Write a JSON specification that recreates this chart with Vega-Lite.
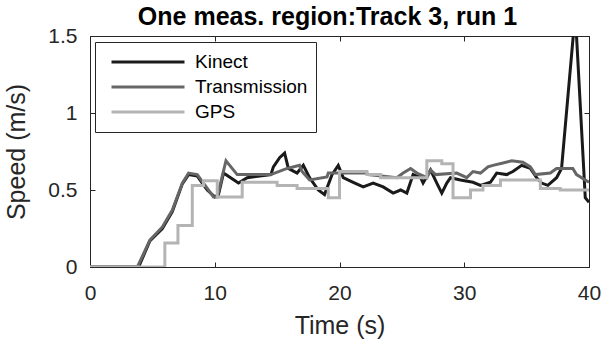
{
  "$schema": "https://vega.github.io/schema/vega-lite/v6.json",
  "width": 499,
  "height": 231,
  "autosize": {"type": "none"},
  "padding": {"left": 90, "top": 36, "right": 15, "bottom": 85},
  "background": "white",
  "title": {
    "text": "One meas. region:Track 3, run 1",
    "font": "Liberation Sans",
    "fontSize": 25,
    "fontWeight": "bold",
    "color": "#000000",
    "anchor": "middle",
    "dx": -12,
    "offset": -5
  },
  "datasets": {
    "lines": [
      {"t": 0, "v": 0, "series": "Kinect"},
      {"t": 3.9, "v": 0, "series": "Kinect"},
      {"t": 4.8, "v": 0.17, "series": "Kinect"},
      {"t": 5.8, "v": 0.25, "series": "Kinect"},
      {"t": 6.6, "v": 0.36, "series": "Kinect"},
      {"t": 7.4, "v": 0.54, "series": "Kinect"},
      {"t": 7.9, "v": 0.6, "series": "Kinect"},
      {"t": 8.6, "v": 0.59, "series": "Kinect"},
      {"t": 9.4, "v": 0.5, "series": "Kinect"},
      {"t": 10.0, "v": 0.455, "series": "Kinect"},
      {"t": 10.3, "v": 0.47, "series": "Kinect"},
      {"t": 10.7, "v": 0.61, "series": "Kinect"},
      {"t": 11.9, "v": 0.545, "series": "Kinect"},
      {"t": 12.3, "v": 0.565, "series": "Kinect"},
      {"t": 12.6, "v": 0.58, "series": "Kinect"},
      {"t": 14.5, "v": 0.6, "series": "Kinect"},
      {"t": 14.7, "v": 0.65, "series": "Kinect"},
      {"t": 15.2, "v": 0.71, "series": "Kinect"},
      {"t": 15.6, "v": 0.74, "series": "Kinect"},
      {"t": 15.9, "v": 0.64, "series": "Kinect"},
      {"t": 16.6, "v": 0.61, "series": "Kinect"},
      {"t": 17.1, "v": 0.66, "series": "Kinect"},
      {"t": 17.6, "v": 0.58, "series": "Kinect"},
      {"t": 18.3, "v": 0.5, "series": "Kinect"},
      {"t": 18.8, "v": 0.47, "series": "Kinect"},
      {"t": 19.4, "v": 0.6, "series": "Kinect"},
      {"t": 19.9, "v": 0.66, "series": "Kinect"},
      {"t": 20.3, "v": 0.58, "series": "Kinect"},
      {"t": 21.1, "v": 0.55, "series": "Kinect"},
      {"t": 21.9, "v": 0.52, "series": "Kinect"},
      {"t": 22.7, "v": 0.545, "series": "Kinect"},
      {"t": 23.5, "v": 0.52, "series": "Kinect"},
      {"t": 24.3, "v": 0.48, "series": "Kinect"},
      {"t": 24.9, "v": 0.5, "series": "Kinect"},
      {"t": 25.4, "v": 0.48, "series": "Kinect"},
      {"t": 25.9, "v": 0.6, "series": "Kinect"},
      {"t": 26.5, "v": 0.58, "series": "Kinect"},
      {"t": 26.7, "v": 0.545, "series": "Kinect"},
      {"t": 27.3, "v": 0.63, "series": "Kinect"},
      {"t": 27.8, "v": 0.545, "series": "Kinect"},
      {"t": 28.2, "v": 0.48, "series": "Kinect"},
      {"t": 28.6, "v": 0.545, "series": "Kinect"},
      {"t": 28.9, "v": 0.58, "series": "Kinect"},
      {"t": 29.7, "v": 0.565, "series": "Kinect"},
      {"t": 30.7, "v": 0.55, "series": "Kinect"},
      {"t": 31.3, "v": 0.53, "series": "Kinect"},
      {"t": 32.1, "v": 0.55, "series": "Kinect"},
      {"t": 32.6, "v": 0.61, "series": "Kinect"},
      {"t": 33.4, "v": 0.6, "series": "Kinect"},
      {"t": 33.9, "v": 0.62, "series": "Kinect"},
      {"t": 34.6, "v": 0.66, "series": "Kinect"},
      {"t": 35.3, "v": 0.64, "series": "Kinect"},
      {"t": 35.8, "v": 0.58, "series": "Kinect"},
      {"t": 36.2, "v": 0.545, "series": "Kinect"},
      {"t": 36.7, "v": 0.53, "series": "Kinect"},
      {"t": 37.4, "v": 0.58, "series": "Kinect"},
      {"t": 37.8, "v": 0.64, "series": "Kinect"},
      {"t": 38.9, "v": 1.65, "series": "Kinect"},
      {"t": 39.7, "v": 0.45, "series": "Kinect"},
      {"t": 40, "v": 0.42, "series": "Kinect"},

      {"t": 0, "v": 0, "series": "Transmission"},
      {"t": 3.8, "v": 0, "series": "Transmission"},
      {"t": 4.8, "v": 0.175, "series": "Transmission"},
      {"t": 5.8, "v": 0.26, "series": "Transmission"},
      {"t": 6.6, "v": 0.37, "series": "Transmission"},
      {"t": 7.4, "v": 0.545, "series": "Transmission"},
      {"t": 7.9, "v": 0.61, "series": "Transmission"},
      {"t": 8.6, "v": 0.6, "series": "Transmission"},
      {"t": 9.4, "v": 0.51, "series": "Transmission"},
      {"t": 9.9, "v": 0.455, "series": "Transmission"},
      {"t": 10.2, "v": 0.455, "series": "Transmission"},
      {"t": 10.9, "v": 0.69, "series": "Transmission"},
      {"t": 11.8, "v": 0.6, "series": "Transmission"},
      {"t": 14.5, "v": 0.6, "series": "Transmission"},
      {"t": 15.8, "v": 0.64, "series": "Transmission"},
      {"t": 16.8, "v": 0.66, "series": "Transmission"},
      {"t": 17.0, "v": 0.62, "series": "Transmission"},
      {"t": 17.6, "v": 0.565, "series": "Transmission"},
      {"t": 19.0, "v": 0.585, "series": "Transmission"},
      {"t": 19.1, "v": 0.61, "series": "Transmission"},
      {"t": 22.2, "v": 0.61, "series": "Transmission"},
      {"t": 22.3, "v": 0.6, "series": "Transmission"},
      {"t": 24.6, "v": 0.58, "series": "Transmission"},
      {"t": 25.1, "v": 0.61, "series": "Transmission"},
      {"t": 25.7, "v": 0.64, "series": "Transmission"},
      {"t": 26.2, "v": 0.61, "series": "Transmission"},
      {"t": 27.0, "v": 0.58, "series": "Transmission"},
      {"t": 27.3, "v": 0.63, "series": "Transmission"},
      {"t": 27.7, "v": 0.6, "series": "Transmission"},
      {"t": 29.4, "v": 0.61, "series": "Transmission"},
      {"t": 30.2, "v": 0.58, "series": "Transmission"},
      {"t": 30.7, "v": 0.62, "series": "Transmission"},
      {"t": 31.3, "v": 0.61, "series": "Transmission"},
      {"t": 31.9, "v": 0.65, "series": "Transmission"},
      {"t": 32.3, "v": 0.66, "series": "Transmission"},
      {"t": 33.1, "v": 0.675, "series": "Transmission"},
      {"t": 33.8, "v": 0.69, "series": "Transmission"},
      {"t": 34.7, "v": 0.68, "series": "Transmission"},
      {"t": 35.3, "v": 0.65, "series": "Transmission"},
      {"t": 35.7, "v": 0.6, "series": "Transmission"},
      {"t": 36.9, "v": 0.61, "series": "Transmission"},
      {"t": 37.4, "v": 0.64, "series": "Transmission"},
      {"t": 38.7, "v": 0.64, "series": "Transmission"},
      {"t": 39.0, "v": 0.6, "series": "Transmission"},
      {"t": 39.7, "v": 0.565, "series": "Transmission"},
      {"t": 40, "v": 0.55, "series": "Transmission"}
    ],
    "gps": [
      {"t": 0, "v": 0, "series": "GPS"},
      {"t": 6.0, "v": 0.156, "series": "GPS"},
      {"t": 7.05, "v": 0.27, "series": "GPS"},
      {"t": 8.2, "v": 0.53, "series": "GPS"},
      {"t": 9.1, "v": 0.56, "series": "GPS"},
      {"t": 10.2, "v": 0.455, "series": "GPS"},
      {"t": 12.2, "v": 0.55, "series": "GPS"},
      {"t": 15.0, "v": 0.53, "series": "GPS"},
      {"t": 16.6, "v": 0.51, "series": "GPS"},
      {"t": 19.1, "v": 0.45, "series": "GPS"},
      {"t": 20.0, "v": 0.62, "series": "GPS"},
      {"t": 22.2, "v": 0.6, "series": "GPS"},
      {"t": 23.3, "v": 0.58, "series": "GPS"},
      {"t": 27.0, "v": 0.69, "series": "GPS"},
      {"t": 28.2, "v": 0.67, "series": "GPS"},
      {"t": 29.1, "v": 0.45, "series": "GPS"},
      {"t": 30.5, "v": 0.5, "series": "GPS"},
      {"t": 31.5, "v": 0.53, "series": "GPS"},
      {"t": 32.9, "v": 0.565, "series": "GPS"},
      {"t": 36.1, "v": 0.51, "series": "GPS"},
      {"t": 37.7, "v": 0.5, "series": "GPS"},
      {"t": 40, "v": 0.5, "series": "GPS"}
    ]
  },
  "layer": [
    {
      "data": {"name": "lines"},
      "mark": {"type": "line", "strokeWidth": 3, "clip": true},
      "encoding": {
        "x": {
          "field": "t", "type": "quantitative",
          "scale": {"domain": [0, 40], "nice": false, "zero": false},
          "axis": {"orient": "bottom", "values": [0, 10, 20, 30, 40], "format": "d", "title": "Time (s)", "labelPadding": 20, "titlePadding": 10}
        },
        "y": {
          "field": "v", "type": "quantitative",
          "scale": {"domain": [0, 1.5], "nice": false},
          "axis": {"orient": "left", "values": [0, 0.5, 1, 1.5], "format": "~g", "title": "Speed (m/s)", "labelPadding": 18, "titlePadding": 18}
        },
        "color": {
          "field": "series", "type": "nominal",
          "scale": {"domain": ["Kinect", "Transmission", "GPS"], "range": ["#1a1a1a", "#666666", "#b4b4b4"]},
          "legend": {"title": null}
        },
        "order": {"field": "t", "type": "quantitative"}
      }
    },
    {
      "data": {"name": "gps"},
      "mark": {"type": "line", "strokeWidth": 3, "interpolate": "step-after", "clip": true},
      "encoding": {
        "x": {
          "field": "t", "type": "quantitative",
          "scale": {"domain": [0, 40], "nice": false, "zero": false},
          "axis": {"orient": "top", "values": [0, 10, 20, 30, 40], "labels": false, "title": null, "minExtent": 0, "maxExtent": 0}
        },
        "y": {
          "field": "v", "type": "quantitative",
          "scale": {"domain": [0, 1.5], "nice": false},
          "axis": {"orient": "right", "values": [0, 0.5, 1, 1.5], "labels": false, "title": null, "minExtent": 0, "maxExtent": 0}
        },
        "color": {"field": "series", "type": "nominal"},
        "order": {"field": "t", "type": "quantitative"}
      }
    }
  ],
  "config": {
    "font": "Liberation Sans",
    "view": {"stroke": "#262626", "strokeWidth": 1},
    "axis": {
      "grid": false,
      "domain": false,
      "tickSize": -5,
      "tickColor": "#262626",
      "tickWidth": 1,
      "labelFont": "Liberation Sans",
      "labelFontSize": 21,
      "labelColor": "#262626",
      "labelFlush": false,
      "titleFont": "Liberation Sans",
      "titleFontSize": 25,
      "titleFontWeight": "normal",
      "titleColor": "#262626"
    },
    "legend": {
      "orient": "none",
      "legendX": 5,
      "legendY": 6,
      "fillColor": "white",
      "strokeColor": "#262626",
      "padding": 8,
      "symbolType": "stroke",
      "symbolSize": 5329,
      "symbolOffset": 7,
      "symbolStrokeWidth": 3,
      "labelFont": "Liberation Sans",
      "labelFontSize": 19,
      "labelColor": "#000000",
      "labelOffset": 9,
      "clipHeight": 24,
      "rowPadding": 1,
      "cornerRadius": 0
    }
  }
}
